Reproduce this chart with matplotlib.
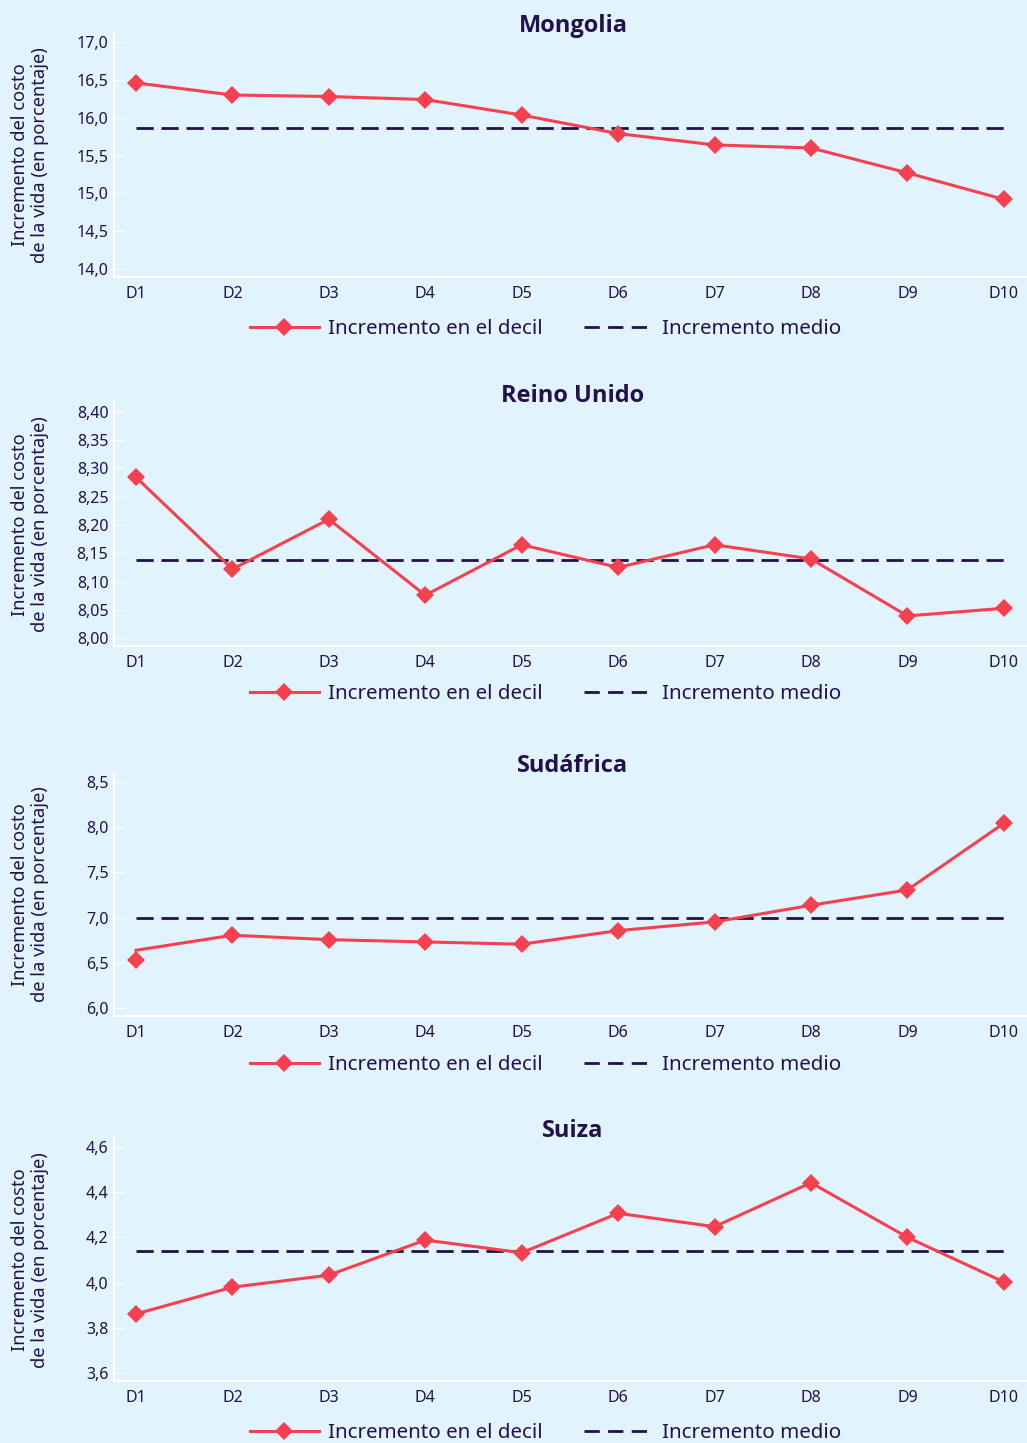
import matplotlib
matplotlib.use("Agg")
import matplotlib.pyplot as plt
from matplotlib.lines import Line2D
from matplotlib import font_manager
import numpy as np

plt.rcParams['font.family'] = ['Noto Sans', 'DejaVu Sans']

# Data
deciles = ["D1", "D2", "D3", "D4", "D5", "D6", "D7", "D8", "D9", "D10"]

mongolia = [16.46, 16.30, 16.28, 16.24, 16.035, 15.79, 15.64, 15.60, 15.27, 14.92]
mongolia_medio = 15.86

reino_unido = [8.284, 8.122, 8.210, 8.076, 8.165, 8.125, 8.165, 8.140, 8.0395, 8.053]
reino_unido_medio = 8.138

sudafrica = [6.53, 6.806, 6.757, 6.732, 6.707, 6.857, 6.953, 7.137, 7.306, 8.041]
sudafrica_linea = [6.64, 6.806, 6.757, 6.732, 6.707, 6.857, 6.953, 7.137, 7.306, 8.041]
sudafrica_medio = 6.993

suiza = [3.862, 3.980, 4.033, 4.188, 4.132, 4.306, 4.247, 4.441, 4.200, 4.003]
suiza_medio = 4.141

titulos = ["Mongolia", "Reino Unido", "Sudáfrica", "Suiza"]
ticks_y = [
    (np.arange(14.0, 17.01, 0.5), "{:.1f}", (13.90, 17.12)),
    (np.arange(8.00, 8.401, 0.05), "{:.2f}", (7.987, 8.415)),
    (np.arange(6.0, 8.51, 0.5), "{:.1f}", (5.918, 8.593)),
    (np.arange(3.6, 4.61, 0.2), "{:.1f}", (3.566, 4.637)),
]
series = [
    (mongolia, mongolia, mongolia_medio),
    (reino_unido, reino_unido, reino_unido_medio),
    (sudafrica, sudafrica_linea, sudafrica_medio),
    (suiza, suiza, suiza_medio),
]

BG = "#E1F3FD"
RED = "#F5404F"
NAVY = "#20114A"
TXT = "#22124B"


def bold_font():
    # pick a bold face that is actually installed
    for fam in ("Noto Sans", "Open Sans", "Lato", "Roboto", "DejaVu Sans"):
        fp = font_manager.FontProperties(family=fam, weight="bold")
        path = font_manager.findfont(fp, fallback_to_default=False)
        if path and "bold" in path.lower():
            return font_manager.FontProperties(fname=path)
    return font_manager.FontProperties(family="DejaVu Sans", weight="bold")


TITLE_FP = bold_font()

W, H = 1027, 1443
fig = plt.figure(figsize=(W / 100, H / 100), dpi=100, facecolor=BG)

# panel layout in pixels: (top, bottom, title baseline, legend centre)
paneles = [
    (33.0, 276.5, 31.7, 329.3),
    (403.0, 645.7, 401.7, 694.3),
    (773.3, 1015.7, 771.7, 1065.0),
    (1138.3, 1381.0, 1136.7, 1432.7),
]
left_px = 114
x = np.arange(len(deciles))
MS = 9.0

for (marcas, linea, medio), titulo, (yt, fmt, ylim), (top, bot, tb, lg) in zip(
        series, titulos, ticks_y, paneles):
    ax = fig.add_axes([left_px / W, 1 - bot / H, (W - left_px) / W, (bot - top) / H])
    ax.set_facecolor(BG)
    ax.plot(x, linea, color=RED, lw=2.2, zorder=3)
    ax.plot(x, marcas, ls="none", marker="D", ms=MS, color=RED, mew=0, zorder=4)
    ax.plot([x[0], x[-1]], [medio, medio], color=NAVY, lw=2.0,
            dashes=(6.2, 2.8), zorder=2)
    ax.set_xlim(-0.228, 9.24)
    ax.set_ylim(*ylim)
    ax.set_xticks(x)
    ax.set_xticklabels(deciles, fontsize=11.5, color=TXT)
    ax.set_yticks(yt)
    ax.set_yticklabels([fmt.format(v).replace(".", ",") for v in yt],
                       fontsize=11.5, color=TXT)
    ax.tick_params(axis="x", length=0, pad=6.5)
    ax.tick_params(axis="y", direction="in", length=7, width=1.0,
                   color="white", pad=4)
    for s in ("top", "right"):
        ax.spines[s].set_visible(False)
    for s in ("left", "bottom"):
        ax.spines[s].set_color("white")
        ax.spines[s].set_linewidth(1.5)

    fp = TITLE_FP.copy()
    fp.set_size(17)
    fig.text(573 / W, 1 - tb / H, titulo, ha="center", va="baseline",
             fontproperties=fp, color=TXT)
    fig.text(30 / W, 1 - ((top + bot) / 2) / H,
             "Incremento del costo\nde la vida (en porcentaje)",
             rotation=90, ha="center", va="center", multialignment="center",
             fontsize=13.2, color=TXT, linespacing=1.15)

    handles = [
        Line2D([], [], color=RED, lw=2.2, marker="D", ms=MS, mew=0),
        Line2D([], [], color=NAVY, lw=2.0, dashes=(5.5, 3.0)),
    ]
    ax.legend(handles, ["Incremento en el decil", "Incremento medio"],
              loc="center", bbox_to_anchor=(545.5 / W, 1 - lg / H),
              bbox_transform=fig.transFigure, ncol=2, frameon=False,
              fontsize=14.8, labelcolor=TXT, handlelength=3.35,
              handletextpad=0.45, columnspacing=2.0, numpoints=1,
              borderpad=0, borderaxespad=0)

fig.savefig("out.png", dpi=100, facecolor=BG)
